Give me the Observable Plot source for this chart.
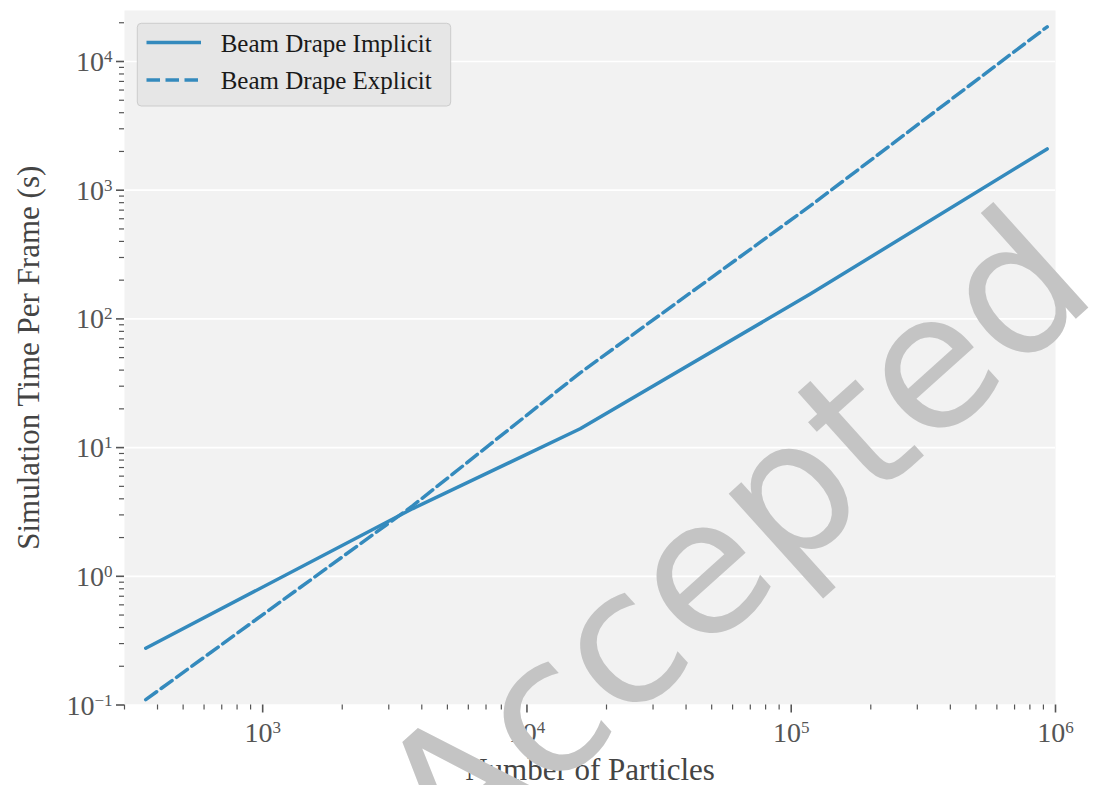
<!DOCTYPE html>
<html><head><meta charset="utf-8">
<script src="https://cdn.jsdelivr.net/npm/d3@7"></script>
<script src="https://cdn.jsdelivr.net/npm/@observablehq/plot@0.6"></script>
<style>
html,body{margin:0;padding:0;background:#fff;}
#chart{position:relative;width:1096px;height:785px;}
</style></head><body><div id="chart"></div>
<script>
// ---- data ----
const particles = [361, 3700, 15900, 118000, 930000];
const implicitTime = [0.276, 3.36, 14.0, 156, 2094];
const explicitTime = [0.110, 3.54, 38.1, 755, 18600];
const seriesNames = ["Beam Drape Implicit", "Beam Drape Explicit"];
const xMajorTicks = [1e3, 1e4, 1e5, 1e6];
const yMajorTicks = [1e-1, 1e0, 1e1, 1e2, 1e3, 1e4];
const xLabel = "Number of Particles";
const yLabel = "Simulation Time Per Frame (s)";
const watermarkText = "Accepted";

const xDomain = [300, 1e6];
const yDomain = [0.1, 24900];

function minorTicks([lo, hi]) {
  const out = [];
  for (let e = Math.floor(Math.log10(lo)); e <= Math.ceil(Math.log10(hi)); e++) {
    for (let k = 2; k <= 9; k++) {
      const v = k * Math.pow(10, e);
      if (v >= lo * 0.999 && v <= hi * 1.001) out.push(v);
    }
  }
  return out;
}
const xMinorTicks = minorTicks(xDomain);
const yMinorTicks = minorTicks(yDomain);

const implicitRows = particles.map((p, i) => ({particles: p, time: implicitTime[i], series: seriesNames[0]}));
const explicitRows = particles.map((p, i) => ({particles: p, time: explicitTime[i], series: seriesNames[1]}));

const blue = "#348ABD";
const dash = "13.5,5.5";
const lw = 3.5;
const tickFont = 28;
const expFmt = d => "10^" + Math.round(Math.log10(d));

const plot = Plot.plot({
  width: 1096,
  height: 785,
  marginLeft: 124,
  marginRight: 41,
  marginTop: 10,
  marginBottom: 80.5,
  style: {fontFamily: "'Liberation Serif', serif", fontSize: tickFont + "px", color: "#555", background: "transparent"},
  x: {type: "log", domain: xDomain, label: null},
  y: {type: "log", domain: yDomain, label: null},
  marks: [
    Plot.frame({fill: "#f2f2f2", stroke: "none"}),
    Plot.gridY(yMajorTicks, {stroke: "#ffffff", strokeOpacity: 1, strokeWidth: 1.7}),
    Plot.line(implicitRows, {x: "particles", y: "time", stroke: blue, strokeWidth: lw}),
    Plot.line(explicitRows, {x: "particles", y: "time", stroke: blue, strokeWidth: lw, strokeDasharray: dash}),
    Plot.axisX(xMinorTicks, {tickSize: 5, tickFormat: () => "", stroke: "#555", strokeWidth: 1.2, label: null}),
    Plot.axisX(xMajorTicks, {tickSize: 8, tickPadding: 9, tickFormat: expFmt, stroke: "#555", fill: "#555", strokeWidth: 1.6, fontSize: tickFont, label: null}),
    Plot.axisY(yMinorTicks, {tickSize: 5, tickFormat: () => "", stroke: "#555", strokeWidth: 1.2, label: null}),
    Plot.axisY(yMajorTicks, {tickSize: 8, tickPadding: 4, tickFormat: expFmt, stroke: "#555", fill: "#555", strokeWidth: 1.6, fontSize: tickFont, label: null}),
    Plot.text([xLabel], {text: d => d, frameAnchor: "bottom", textAnchor: "middle", lineAnchor: "middle", dy: 65, fontSize: 31, fill: "#444"}),
    Plot.text([yLabel], {text: d => d, frameAnchor: "left", textAnchor: "middle", lineAnchor: "middle", dx: -95.6, rotate: -90, fontSize: 31, fill: "#444"})
  ]
});
document.getElementById("chart").appendChild(plot);

// superscript exponents in tick labels
plot.querySelectorAll("text").forEach(t => {
  const m = /^10\^(-?\d+)$/.exec(t.textContent);
  if (!m) return;
  const anchorEl = t.closest("[text-anchor]");
  const isY = (t.getAttribute("text-anchor") || (anchorEl && anchorEl.getAttribute("text-anchor"))) === "end";
  t.textContent = "";
  const base = document.createElementNS("http://www.w3.org/2000/svg", "tspan");
  base.textContent = "10";
  t.appendChild(base);
  const sup = document.createElementNS("http://www.w3.org/2000/svg", "tspan");
  sup.textContent = m[1].replace("-", "\u2212");
  sup.setAttribute("font-size", "17px");
  sup.setAttribute("dy", "-9");
  t.appendChild(sup);
  if (isY) { t.setAttribute("y", "9.5"); t.removeAttribute("dy"); }
});

// legend
const svg = d3.select(plot);
const lg = svg.append("g").attr("class", "legend").attr("text-anchor", "start");
lg.append("rect").attr("x", 137.3).attr("y", 23.3).attr("width", 313.4).attr("height", 82.7)
  .attr("rx", 4).attr("fill", "#e6e6e6").attr("stroke", "#cccccc").attr("stroke-width", 1);
[[seriesNames[0], null, 42.5], [seriesNames[1], dash, 80]].forEach(([name, da, yy]) => {
  lg.append("line").attr("x1", 146.5).attr("x2", 201).attr("y1", yy).attr("y2", yy)
    .attr("stroke", blue).attr("stroke-width", lw).attr("stroke-dasharray", da);
  lg.append("text").attr("x", 220.7).attr("y", yy + 9.2).attr("font-size", 25).attr("text-anchor", "start")
    .attr("fill", "#1a1a1a").attr("font-family", "'Liberation Serif', serif").text(name);
});

// watermark
svg.append("text").attr("transform", "translate(1101,296) rotate(-42)")
  .attr("text-anchor", "end").attr("font-family", "'DejaVu Sans', sans-serif")
  .attr("font-size", 187).attr("fill", "#c4c4c4").text(watermarkText);
</script></body></html>
